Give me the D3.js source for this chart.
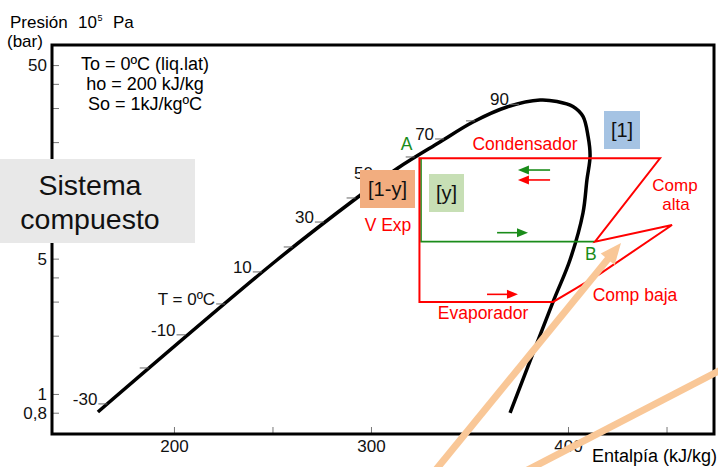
<!DOCTYPE html>
<html><head><meta charset="utf-8">
<script src="https://cdn.jsdelivr.net/npm/d3@7"></script>
<style>body{margin:0;background:#fff}svg{display:block;font-family:"Liberation Sans",Arial,Helvetica,sans-serif}</style>
</head><body>
<script>
// ---- data (enthalpy kJ/kg, pressure bar) ----
const domeH = [161.4, 252.3, 293.4, 313.7, 335.0, 351.8, 369.0, 385.8, 394.4, 402.5, 407.6, 410.2, 411.2, 409.6, 407.6, 401.0, 392.4, 370.6];
const domeP = [0.807, 4.92, 10.41, 14.71, 20.03, 25.41, 30.37, 33.01, 32.43, 30.55, 27.13, 21.38, 16.96, 12.75, 8.61, 4.92, 2.99, 0.798];
const tempH = [166.7, 187.7, 206.4, 226.5, 245.1, 260.8, 276.6, 292.7, 306.6, 322.7, 337.6, 353.3, 375.6];
const tempP = [0.888, 1.362, 2.02, 2.917, 4.27, 5.745, 7.73, 10.29, 12.99, 16.76, 20.76, 25.75, 31.36];
const tempLabels = ["-30", "", "-10", "T = 0ºC", "10", "", "30", "", "50", "", "70", "", "90"];
const xTicks = [200, 250, 300, 350, 400, 450];
const xTickLabels = ["200", "", "300", "", "400", ""];
const yTicks = [50, 40, 30, 20, 10, 5, 4, 3, 2, 1, 0.8];
const yTickLabels = ["50", "", "", "", "", "5", "", "", "", "1", "0,8"];
const cycleRedH = [324.6, 446.7, 413.7, 452.8, 416.2, 403.6, 392.4, 324.6];
const cycleRedP = [16.5, 16.5, 6.12, 7.46, 4.17, 3.49, 2.99, 2.99];
const cycleGreenH = [325.4, 325.4, 413.7];
const cycleGreenP = [16.5, 6.12, 6.12];
const greenArrowH0 = [390.9, 364.0], greenArrowH1 = [374.6, 379.7], greenArrowP = [14.35, 6.81];
const redArrowH0 = [390.9, 358.9], redArrowH1 = [374.6, 374.6], redArrowP = [12.75, 3.27];
const orangeArrowH = [330.0, 426.9], orangeArrowP = [0.373, 6.02];
const orangeLineH = [375.6, 487.3], orangeLineP = [0.386, 1.498];

// ---- setup ----
const svg = d3.select("body").append("svg").attr("width", 718).attr("height", 467);
const x = d3.scaleLinear().domain([138.1, 474.1]).range([52, 714]);
const y = d3.scaleLog().domain([0.621, 63.5]).range([434, 45]);
const RED = "#ff0000", GREEN = "#1a8c1a", ORANGE = "#f9c797";

// axis titles
svg.append("text").attr("x", 10).attr("y", 28).attr("font-size", 17).text("Presión");
svg.append("text").attr("x", 78).attr("y", 28).attr("font-size", 17).text("10");
svg.append("text").attr("x", 97.5).attr("y", 21).attr("font-size", 9).text("5");
svg.append("text").attr("x", 113).attr("y", 28).attr("font-size", 17).text("Pa");
svg.append("text").attr("x", 7).attr("y", 47).attr("font-size", 17).text("(bar)");
svg.append("text").attr("x", 717).attr("y", 462).attr("font-size", 18).attr("text-anchor", "end").text("Entalpía (kJ/kg)");

// axes
const ax = svg.append("g").attr("transform", "translate(0,434)")
  .call(d3.axisBottom(x).tickValues(xTicks).tickSize(-7).tickPadding(6)
    .tickFormat((d, i) => xTickLabels[i]));
const ay = svg.append("g").attr("transform", "translate(52,0)")
  .call(d3.axisLeft(y).tickValues(yTicks).tickSize(-7).tickPadding(5)
    .tickFormat((d, i) => yTickLabels[i]));
[ax, ay].forEach(g => {
  g.select(".domain").remove();
  g.selectAll(".tick line").attr("stroke", "#777").attr("stroke-width", 1);
  g.selectAll(".tick text").attr("font-size", 17).attr("fill", "#111")
    .attr("font-family", "Liberation Sans, Arial, sans-serif");
});
// frame
svg.append("rect").attr("x", 52).attr("y", 45).attr("width", 662).attr("height", 389)
  .attr("fill", "none").attr("stroke", "#000").attr("stroke-width", 3);

// info text
const info = ["To = 0ºC (liq.lat)", "ho = 200 kJ/kg", "So = 1kJ/kgºC"];
info.forEach((t, i) => svg.append("text").attr("x", 145).attr("y", 70 + i * 20)
  .attr("font-size", 18).attr("text-anchor", "middle").text(t));

// saturation dome
const dome = domeH.map((h, i) => [x(h), y(domeP[i])]);
svg.append("path").attr("d", d3.line().curve(d3.curveCatmullRom.alpha(0.5))(dome))
  .attr("fill", "none").attr("stroke", "#000").attr("stroke-width", 3.5).attr("stroke-linecap", "butt");

// temperature marks
tempH.forEach((h, i) => {
  const px = x(h), py = y(tempP[i]);
  svg.append("line").attr("x1", px - 10).attr("x2", px - 1).attr("y1", py).attr("y2", py)
    .attr("stroke", "#666").attr("stroke-width", 1);
  if (tempLabels[i]) svg.append("text").attr("x", px - 11).attr("y", py + 1)
    .attr("font-size", 17).attr("text-anchor", "end").attr("fill", "#111").text(tempLabels[i]);
});

// cycle
const lineGen = d3.line();
svg.append("path").attr("d", lineGen(cycleGreenH.map((h, i) => [x(h), y(cycleGreenP[i])])))
  .attr("fill", "none").attr("stroke", GREEN).attr("stroke-width", 1.6);
svg.append("path").attr("d", lineGen(cycleRedH.map((h, i) => [x(h), y(cycleRedP[i])])) + "Z")
  .attr("fill", "none").attr("stroke", RED).attr("stroke-width", 2).attr("stroke-linejoin", "miter");

function smallArrow(h0, h1, p, color) {
  const x0 = x(h0), x1 = x(h1), py = y(p), dir = Math.sign(x1 - x0);
  svg.append("line").attr("x1", x0).attr("x2", x1 - dir * 8).attr("y1", py).attr("y2", py)
    .attr("stroke", color).attr("stroke-width", 1.6);
  svg.append("path").attr("d", `M${x1},${py}L${x1 - dir * 11},${py - 4.5}L${x1 - dir * 11},${py + 4.5}Z`)
    .attr("fill", color);
}
greenArrowH0.forEach((h, i) => smallArrow(h, greenArrowH1[i], greenArrowP[i], GREEN));
redArrowH0.forEach((h, i) => smallArrow(h, redArrowH1[i], redArrowP[i], RED));

// labels of the cycle
const lab = (t, px, py, color, anchor = "start", fs = 17.5) => svg.append("text").attr("x", px).attr("y", py)
  .attr("font-size", fs).attr("fill", color).attr("text-anchor", anchor).text(t);
lab("A", x(cycleRedH[0]) - 7, y(cycleRedP[0]) - 8, GREEN, "end");
lab("B", x(cycleRedH[2]) - 10, y(cycleRedP[2]) + 18, GREEN);
lab("Condensador", 525, 150, RED, "middle");
lab("Comp", 675, 191, RED, "middle", 17);
lab("alta", 676, 210, RED, "middle", 17);
lab("Comp baja", 635, 301, RED, "middle");
lab("Evaporador", 483, 319, RED, "middle");
lab("V Exp", 388, 231, RED, "middle");

// colored boxes
function box(t, x0, y0, w, h, fill) {
  svg.append("rect").attr("x", x0).attr("y", y0).attr("width", w).attr("height", h).attr("fill", fill);
  svg.append("text").attr("x", x0 + w / 2).attr("y", y0 + h / 2 + 7).attr("font-size", 20)
    .attr("text-anchor", "middle").attr("fill", "#111").text(t);
}
box("[1]", 604, 111, 36, 38, "#a5c3e3");
box("[1-y]", 360, 170, 55, 38, "#f2ad7f");
box("[y]", 429, 174, 35, 38, "#c7dfb5");

// Sistema compuesto
svg.append("rect").attr("x", 0).attr("y", 159).attr("width", 195).attr("height", 84).attr("fill", "#e8e8e8");
svg.append("text").attr("x", 90).attr("y", 195).attr("font-size", 28.5).attr("text-anchor", "middle").attr("fill", "#111").text("Sistema");
svg.append("text").attr("x", 90).attr("y", 229).attr("font-size", 28.5).attr("text-anchor", "middle").attr("fill", "#111").text("compuesto");

// orange overlay arrows
const oa = orangeArrowH.map((h, i) => [x(h), y(orangeArrowP[i])]);
const dx = oa[1][0] - oa[0][0], dy = oa[1][1] - oa[0][1], L = Math.hypot(dx, dy);
const ux = dx / L, uy = dy / L;
svg.append("line").attr("x1", oa[0][0]).attr("y1", oa[0][1])
  .attr("x2", oa[1][0] - ux * 14).attr("y2", oa[1][1] - uy * 14)
  .attr("stroke", ORANGE).attr("stroke-width", 7);
const bx = oa[1][0] - ux * 21, by = oa[1][1] - uy * 21;
svg.append("path").attr("d", `M${oa[1][0]},${oa[1][1]}L${bx - uy * 9},${by + ux * 9}L${bx + uy * 9},${by - ux * 9}Z`)
  .attr("fill", ORANGE);
const ol = orangeLineH.map((h, i) => [x(h), y(orangeLineP[i])]);
svg.append("line").attr("x1", ol[0][0]).attr("y1", ol[0][1]).attr("x2", ol[1][0]).attr("y2", ol[1][1])
  .attr("stroke", ORANGE).attr("stroke-width", 7);
</script>
</body></html>
